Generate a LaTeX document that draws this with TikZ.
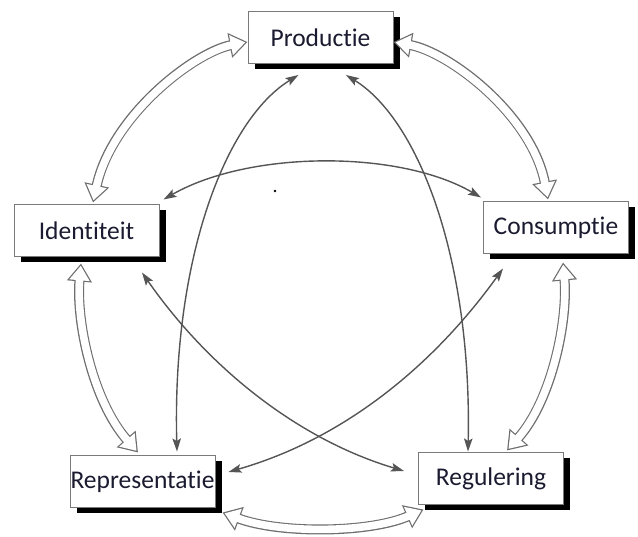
\documentclass[tikz,border=0pt]{standalone}
\usepackage{fontspec}
\setmainfont{Carlito}[Ligatures=NoCommon]
\usetikzlibrary{arrows.meta,shadows}
\definecolor{ink}{HTML}{1A1A30}
\definecolor{frame}{HTML}{7A7A7A}
\definecolor{wire}{HTML}{555555}
\definecolor{rim}{HTML}{6E6E6E}
\tikzset{
  box/.style={draw=frame, line width=1pt, fill=white, minimum width=145pt, minimum height=52pt,
    inner sep=0pt, text=ink, font=\fontsize{25.5}{30}\selectfont,
    drop shadow={fill=black, opacity=1, shadow xshift=6.5pt, shadow yshift=-5.5pt}},
  link/.style={draw=wire, line width=1.4pt, >={Stealth[length=13pt,width=8.5pt,inset=2.5pt]}, <->},
  flow/.style={draw=white, line width=7.6pt, shorten <=2.2pt, shorten >=2.2pt,
    arrows={Triangle[width=19.5pt,length=14.6pt]-Triangle[width=19.5pt,length=14.6pt]},
    preaction={draw=rim, line width=10pt, shorten <=0pt, shorten >=0pt,
      arrows={Triangle[width=24pt,length=18pt]-Triangle[width=24pt,length=18pt]}}}
}
\begin{document}
\begin{tikzpicture}[x=1pt,y=-1pt]
  \useasboundingbox (0,0) rectangle (638,537);

  \node[box] (prod) at (320.5,37.5) {Productie};
  \node[box] (iden) at (86.5,231) {Identiteit};
  \node[box] (cons) at (556,228) {Consumptie};
  \node[box] (repr) at (142.5,482) {Representatie};
  \node[box] (regu) at (491,479) {Regulering};

  % outer ring
  \draw[flow] ([yshift=-4.5pt]prod.west) .. controls (195,52) and (112,115) .. ([xshift=6.5pt,yshift=2pt]iden.north);
  \draw[flow] ([yshift=-4.5pt]prod.east) .. controls (449,52) and (532,115) .. ([xshift=-8pt,yshift=2pt]cons.north);
  \draw[flow] ([xshift=7pt,yshift=-8pt]cons.south) .. controls (568,320) and (552,400) .. ([xshift=16pt,yshift=2pt]regu.north);
  \draw[flow] ([xshift=5.5pt,yshift=-4pt]regu.south west) .. controls (370,533) and (280,534) .. ([xshift=7pt,yshift=-4pt]repr.south east);
  \draw[flow] ([xshift=-4.5pt,yshift=3pt]repr.north) .. controls (92,400) and (76,320) .. ([xshift=-5.5pt,yshift=-6pt]iden.south);

  % inner links
  \draw[link] ([xshift=-22pt,yshift=-11pt]prod.south) .. controls (225,120) and (172,260) .. ([xshift=34.5pt,yshift=4pt]repr.north);
  \draw[link] ([xshift=25.5pt,yshift=-11pt]prod.south) .. controls (419,120) and (472,260) .. ([xshift=-23pt,yshift=1pt]regu.north);
  \draw[link] ([xshift=4pt,yshift=5pt]iden.north east) .. controls (250,150) and (400,150) .. ([xshift=-2pt,yshift=4pt]cons.north west);
  \draw[link] ([xshift=55.5pt,yshift=-15pt]iden.south) .. controls (210,370) and (300,440) .. ([xshift=-14pt,yshift=8pt]regu.west);
  \draw[link] ([xshift=13pt,yshift=10pt]repr.east) .. controls (340,440) and (430,370) .. ([xshift=-53pt,yshift=-14pt]cons.south);

  \fill[black] (275,191) circle (1.3pt);
\end{tikzpicture}
\end{document}
